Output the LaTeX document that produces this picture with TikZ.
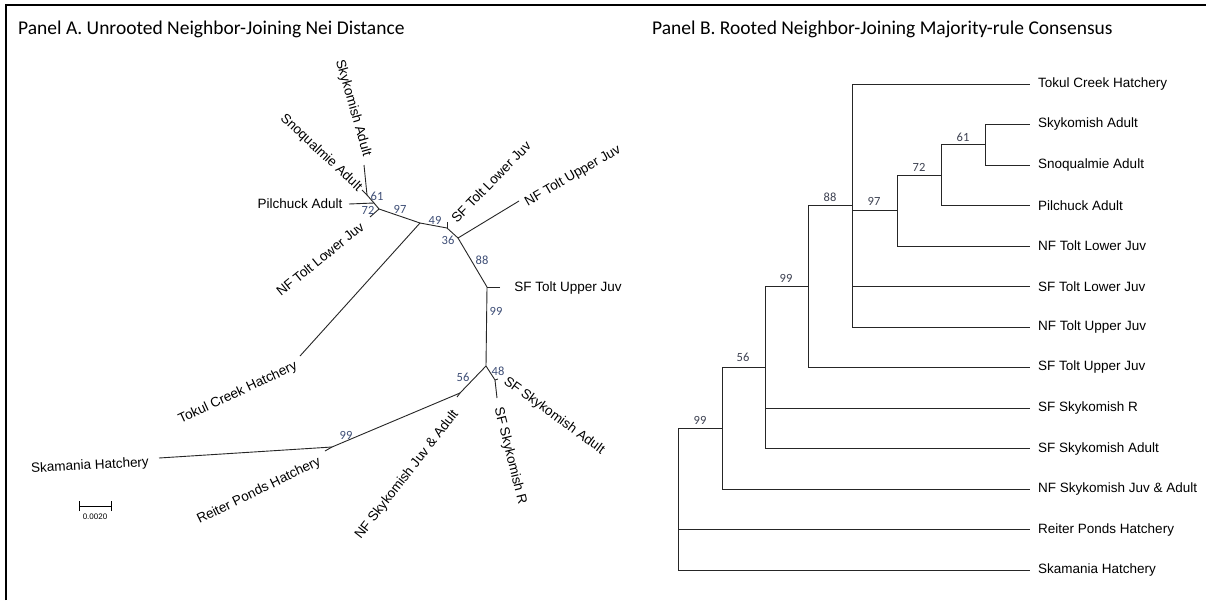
\documentclass[tikz,border=0pt]{standalone}
\usepackage{fontspec}
\setmainfont{Liberation Sans}
\newfontfamily\titlefont{Carlito}
\definecolor{bsblue}{RGB}{62,78,118}
\definecolor{bsgray}{RGB}{62,66,82}
\tikzset{
  branch/.style={line width=0.9pt, black!85},
  lab/.style={font=\fontsize{13.5}{15}\selectfont, inner sep=0pt},
  tiplab/.style={font=\fontsize{13.5}{15}\selectfont, anchor=west, inner xsep=8pt, inner ysep=1pt},
  bsA/.style={font=\titlefont\fontsize{12.5}{13}\selectfont, text=bsblue, inner sep=0pt},
  bsB/.style={font=\titlefont\fontsize{12.5}{13}\selectfont, text=bsgray, inner sep=0pt},
  ttl/.style={font=\titlefont\fontsize{19.5}{22}\selectfont, anchor=west, inner sep=0pt},
}
\begin{document}
\begin{tikzpicture}[x=1pt,y=-1pt]
\useasboundingbox (0,0) rectangle (1206,600);
\fill[white] (0,0) rectangle (1206,600);
\draw[line width=1.8pt] (6,600) -- (6,5) -- (1206,5);

\node[ttl] (titleA) at (18,29) {Panel A. Unrooted Neighbor-Joining Nei Distance};
\node[ttl] (titleB) at (652,29) {Panel B. Rooted Neighbor-Joining Majority-rule Consensus};

% panel A, unrooted tree
\coordinate (aSky) at (364,165);
\coordinate (aSnq) at (362,190);
\coordinate (a61) at (367,195);
\coordinate (aPil) at (349,204);
\coordinate (a72) at (374,203);
\coordinate (aNTL) at (370,217);
\coordinate (a97) at (379,209);
\coordinate (aTok) at (300,356);
\coordinate (aTk) at (420,223);
\coordinate (aSTL) at (447,222);
\coordinate (a49) at (447,228);
\coordinate (aNTU) at (519,201);
\coordinate (a36) at (458,238);
\coordinate (aSTU) at (500,287);
\coordinate (a88) at (487,287);
\coordinate (a99) at (486,366);
\coordinate (a48) at (495,380);
\coordinate (aSSR) at (497,398);
\coordinate (aSSA) at (498,379);
\coordinate (a56) at (460,393);
\coordinate (aNSk) at (457,397);
\coordinate (a99b) at (332,447);
\coordinate (aSka) at (159,458);
\coordinate (aRei) at (325,451);

\draw[branch] (aSky) -- (a61);
\draw[branch] (aSnq) -- (a61);
\draw[branch] (a61) -- (a72);
\draw[branch] (aPil) -- (a72);
\draw[branch] (a72) -- (a97);
\draw[branch] (aNTL) -- (a97);
\draw[branch] (a97) -- (aTk);
\draw[branch] (aTok) -- (aTk);
\draw[branch] (aTk) -- (a49);
\draw[branch] (aSTL) -- (a49);
\draw[branch] (a49) -- (a36);
\draw[branch] (aNTU) -- (a36);
\draw[branch] (a36) -- (a88);
\draw[branch] (aSTU) -- (a88);
\draw[branch] (a88) -- (a99);
\draw[branch] (a99) -- (a48);
\draw[branch] (a48) -- (aSSR);
\draw[branch] (a48) -- (aSSA);
\draw[branch] (a99) -- (a56);
\draw[branch] (aNSk) -- (a56);
\draw[branch] (a56) -- (a99b);
\draw[branch] (aSka) -- (a99b);
\draw[branch] (aRei) -- (a99b);

\node[lab, rotate=-74] (lSky) at (353,108) {Skykomish Adult};
\node[lab, rotate=-43] (lSnq) at (321,153) {Snoqualmie Adult};
\node[lab] (lPil) at (300,204) {Pilchuck Adult};
\node[lab, rotate=39] (lNTL) at (320,259) {NF Tolt Lower Juv};
\node[lab, rotate=25] (lTok) at (238,393) {Tokul Creek Hatchery};
\node[lab, rotate=3] (lSka) at (90,466) {Skamania Hatchery};
\node[lab, rotate=26] (lRei) at (259,491) {Reiter Ponds Hatchery};
\node[lab, rotate=52] (lNSk) at (407,475) {NF Skykomish Juv \& Adult};
\node[lab, rotate=-76] (lSSR) at (510,456) {SF Skykomish R};
\node[lab, rotate=-36] (lSSA) at (554,416) {SF Skykomish Adult};
\node[lab, rotate=46] (lSTL) at (491,182) {SF Tolt Lower Juv};
\node[lab, rotate=30] (lNTU) at (573,176) {NF Tolt Upper Juv};
\node[lab] (lSTU) at (568,288) {SF Tolt Upper Juv};

\node[bsA] (v61) at (377,196) {61};
\node[bsA] (v72) at (368,210) {72};
\node[bsA] (v97) at (400,209) {97};
\node[bsA] (v49) at (435,220) {49};
\node[bsA] (v36) at (448,240) {36};
\node[bsA] (v88) at (482,260) {88};
\node[bsA] (v99) at (496,311) {99};
\node[bsA] (v48) at (498,371) {48};
\node[bsA] (v56) at (463,377) {56};
\node[bsA] (v99b) at (346,435) {99};

% scale bar
\coordinate (sbL) at (79,506);
\coordinate (sbR) at (111,506);
\draw[line width=0.8pt] (sbL) -- (sbR);
\draw[line width=0.8pt] ([yshift=-5]sbL) -- ([yshift=5]sbL);
\draw[line width=0.8pt] ([yshift=-5]sbR) -- ([yshift=5]sbR);
\node[font=\fontsize{8}{9}\selectfont, inner sep=0pt] (sbT) at (95,517) {0.0020};

% panel B, rooted tree
\node[tiplab] (tTok) at (1030,84) {Tokul Creek Hatchery};
\node[tiplab] (tSky) at (1030,124.5) {Skykomish Adult};
\node[tiplab] (tSnq) at (1030,165) {Snoqualmie Adult};
\node[tiplab] (tPil) at (1030,205.5) {Pilchuck Adult};
\node[tiplab] (tNTL) at (1030,246) {NF Tolt Lower Juv};
\node[tiplab] (tSTL) at (1030,286.5) {SF Tolt Lower Juv};
\node[tiplab] (tNTU) at (1030,327) {NF Tolt Upper Juv};
\node[tiplab] (tSTU) at (1030,367.5) {SF Tolt Upper Juv};
\node[tiplab] (tSSR) at (1030,408) {SF Skykomish R};
\node[tiplab] (tSSA) at (1030,448.5) {SF Skykomish Adult};
\node[tiplab] (tNSk) at (1030,489) {NF Skykomish Juv \& Adult};
\node[tiplab] (tRei) at (1030,529.5) {Reiter Ponds Hatchery};
\node[tiplab] (tSka) at (1030,570) {Skamania Hatchery};

\coordinate (b61) at (985,144.75);
\coordinate (b72) at (941,175.1);
\coordinate (b97) at (897,210.6);
\coordinate (b88) at (852,205.5);
\coordinate (b99b) at (808,286.5);
\coordinate (b56) at (765,367.5);
\coordinate (b99a) at (722,428.25);
\coordinate (bRoot) at (678,499.1);

\draw[branch] (b61) |- (tSky);
\draw[branch] (b61) |- (tSnq);
\draw[branch] (b72) |- (b61);
\draw[branch] (b72) |- (tPil);
\draw[branch] (b97) |- (b72);
\draw[branch] (b97) |- (tNTL);
\draw[branch] (b88) |- (tTok);
\draw[branch] (b88) |- (b97);
\draw[branch] (b88) |- (tSTL);
\draw[branch] (b88) |- (tNTU);
\draw[branch] (b99b) |- (b88);
\draw[branch] (b99b) |- (tSTU);
\draw[branch] (b56) |- (b99b);
\draw[branch] (b56) |- (tSSR);
\draw[branch] (b56) |- (tSSA);
\draw[branch] (b99a) |- (b56);
\draw[branch] (b99a) |- (tNSk);
\draw[branch] (bRoot) |- (b99a);
\draw[branch] (bRoot) |- (tRei);
\draw[branch] (bRoot) |- (tSka);

\node[bsB] (w61) at (963,137) {61};
\node[bsB] (w72) at (919,167) {72};
\node[bsB] (w97) at (874,201) {97};
\node[bsB] (w88) at (830,197) {88};
\node[bsB] (w99b) at (786,278) {99};
\node[bsB] (w56) at (743,357) {56};
\node[bsB] (w99a) at (700,420) {99};
\end{tikzpicture}
\end{document}
